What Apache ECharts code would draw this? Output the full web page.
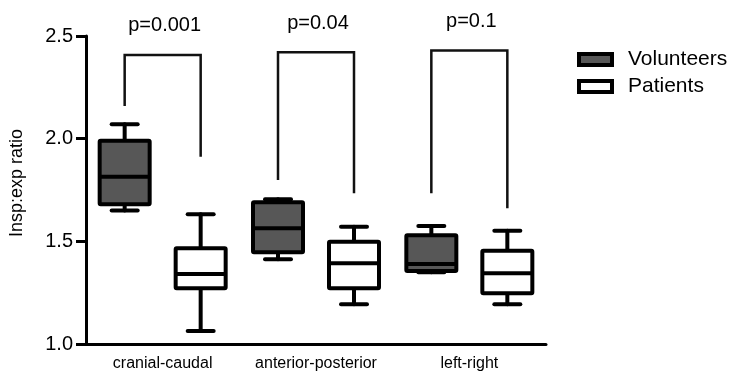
<!DOCTYPE html>
<html>
<head>
<meta charset="utf-8">
<script src="https://cdn.jsdelivr.net/npm/echarts@6/dist/echarts.min.js"></script>
<style>
html,body{margin:0;padding:0;background:#fff;}
#chart{width:734px;height:373px;}
</style>
</head>
<body>
<div id="chart"></div>
<script>
// ---- data ----
var categories = ['cranial-caudal', 'anterior-posterior', 'left-right'];
var seriesNames = ['Volunteers', 'Patients'];
// [min, Q1, median, Q3, max]
var volunteers = [
  [1.65, 1.68, 1.815, 1.99, 2.07],
  [1.413, 1.447, 1.564, 1.69, 1.705],
  [1.35, 1.355, 1.39, 1.53, 1.575]
];
var patients = [
  [1.063, 1.271, 1.341, 1.466, 1.632],
  [1.193, 1.271, 1.393, 1.498, 1.571],
  [1.193, 1.247, 1.344, 1.454, 1.552]
];
// significance brackets
var bracketTop = [2.408, 2.421, 2.429];
var bracketLeftEnd = [2.159, 1.799, 1.734];
var bracketRightEnd = [1.912, 1.734, 1.661];
var pLabels = ['p=0.001', 'p=0.04', 'p=0.1'];
var yTicks = [1.0, 1.5, 2.0, 2.5];

var FONT = '"Liberation Sans", Arial, sans-serif';
var OFFSET = 38, BOXW = 50, CAPW = 26, LW = 4;

function boxRender(fill) {
  return function (params, api) {
    var c = api.value(0);
    var pMin = api.coord([c, api.value(1)]);
    var pQ1 = api.coord([c, api.value(2)]);
    var pMed = api.coord([c, api.value(3)]);
    var pQ3 = api.coord([c, api.value(4)]);
    var pMax = api.coord([c, api.value(5)]);
    var off = params.seriesIndex === 0 ? -OFFSET : OFFSET;
    var x = pMed[0] + off;
    var ls = {stroke: '#000', lineWidth: LW, lineCap: 'round'};
    return {
      type: 'group',
      children: [
        {type: 'line', shape: {x1: x, y1: pMax[1], x2: x, y2: pQ3[1]}, style: ls},
        {type: 'line', shape: {x1: x, y1: pQ1[1], x2: x, y2: pMin[1]}, style: ls},
        {type: 'line', shape: {x1: x - CAPW / 2, y1: pMax[1], x2: x + CAPW / 2, y2: pMax[1]}, style: ls},
        {type: 'line', shape: {x1: x - CAPW / 2, y1: pMin[1], x2: x + CAPW / 2, y2: pMin[1]}, style: ls},
        {type: 'rect', shape: {x: x - BOXW / 2, y: pQ3[1], width: BOXW, height: pQ1[1] - pQ3[1], r: 1},
          style: {fill: fill, stroke: '#000', lineWidth: LW, lineJoin: 'round'}},
        {type: 'line', shape: {x1: x - BOXW / 2, y1: pMed[1], x2: x + BOXW / 2, y2: pMed[1]}, style: {stroke: '#000', lineWidth: LW}}
      ]
    };
  };
}

function toData(arr) {
  return arr.map(function (d, i) { return [i].concat(d); });
}

var bracketData = categories.map(function (c, i) {
  return [i, bracketTop[i], bracketLeftEnd[i], bracketRightEnd[i]];
});

var chart = echarts.init(document.getElementById('chart'), null, {renderer: 'canvas'});
chart.setOption({
  animation: false,
  backgroundColor: '#fff',
  textStyle: {fontFamily: FONT},
  grid: {left: 86, right: 188, top: 36, bottom: 29, containLabel: false, outerBoundsMode: 'none'},
  legend: {
    orient: 'vertical',
    left: 577,
    top: 49,
    padding: 0,
    itemWidth: 33,
    itemHeight: 11,
    itemGap: 6,
    icon: 'rect',
    textStyle: {fontFamily: FONT, fontSize: 21, color: '#000', padding: [0, 0, 0, 11]},
    data: [
      {name: 'Volunteers', itemStyle: {color: '#575757', borderColor: '#000', borderWidth: 4}},
      {name: 'Patients', itemStyle: {color: '#fff', borderColor: '#000', borderWidth: 4}}
    ]
  },
  xAxis: {
    type: 'category',
    data: categories,
    boundaryGap: true,
    axisLine: {lineStyle: {color: '#000', width: 3}},
    axisTick: {show: false},
    axisLabel: {color: '#000', fontSize: 16, fontFamily: FONT, margin: 12, interval: 0},
    splitLine: {show: false}
  },
  yAxis: {
    type: 'value',
    min: 1.0,
    max: 2.5,
    interval: 0.5,
    name: 'Insp:exp ratio',
    nameLocation: 'middle',
    nameRotate: 90,
    nameGap: 60,
    nameTextStyle: {color: '#000', fontSize: 18, fontFamily: FONT, padding: [0, 0, 0, 14]},
    axisLine: {show: true, lineStyle: {color: '#000', width: 3}},
    axisTick: {show: true, inside: false, length: 10, lineStyle: {color: '#000', width: 3}},
    axisLabel: {
      color: '#000', fontSize: 20, fontFamily: FONT, margin: 13,
      formatter: function (v) {
        for (var i = 0; i < yTicks.length; i++) {
          if (Math.abs(yTicks[i] - v) < 1e-6) return yTicks[i].toFixed(1);
        }
        return '';
      }
    },
    splitLine: {show: false}
  },
  series: [
    {
      name: seriesNames[0], type: 'custom', renderItem: boxRender('#575757'),
      itemStyle: {color: '#575757', borderColor: '#000'},
      encode: {x: 0, y: [1, 2, 3, 4, 5]},
      data: toData(volunteers), z: 3
    },
    {
      name: seriesNames[1], type: 'custom', renderItem: boxRender('#fff'),
      itemStyle: {color: '#fff', borderColor: '#000'},
      encode: {x: 0, y: [1, 2, 3, 4, 5]},
      data: toData(patients), z: 3
    },
    {
      name: 'brackets', type: 'custom',
      encode: {x: 0, y: [1, 2, 3]},
      data: bracketData,
      renderItem: function (params, api) {
        var c = api.value(0);
        var pTop = api.coord([c, api.value(1)]);
        var pL = api.coord([c, api.value(2)]);
        var pR = api.coord([c, api.value(3)]);
        var xl = pTop[0] - OFFSET, xr = pTop[0] + OFFSET;
        var ls = {stroke: '#111', lineWidth: 2.5, lineJoin: 'miter', fill: null};
        return {
          type: 'group',
          children: [
            {type: 'polyline', shape: {points: [[xl, pL[1]], [xl, pTop[1]], [xr, pTop[1]], [xr, pR[1]]]}, style: ls},
            {type: 'text', x: pTop[0] + 2, y: pTop[1] - 29,
              style: {text: pLabels[params.dataIndex], fill: '#000', font: '20px ' + FONT, align: 'center', verticalAlign: 'middle'}}
          ]
        };
      },
      z: 2
    }
  ]
});
</script>
</body>
</html>
